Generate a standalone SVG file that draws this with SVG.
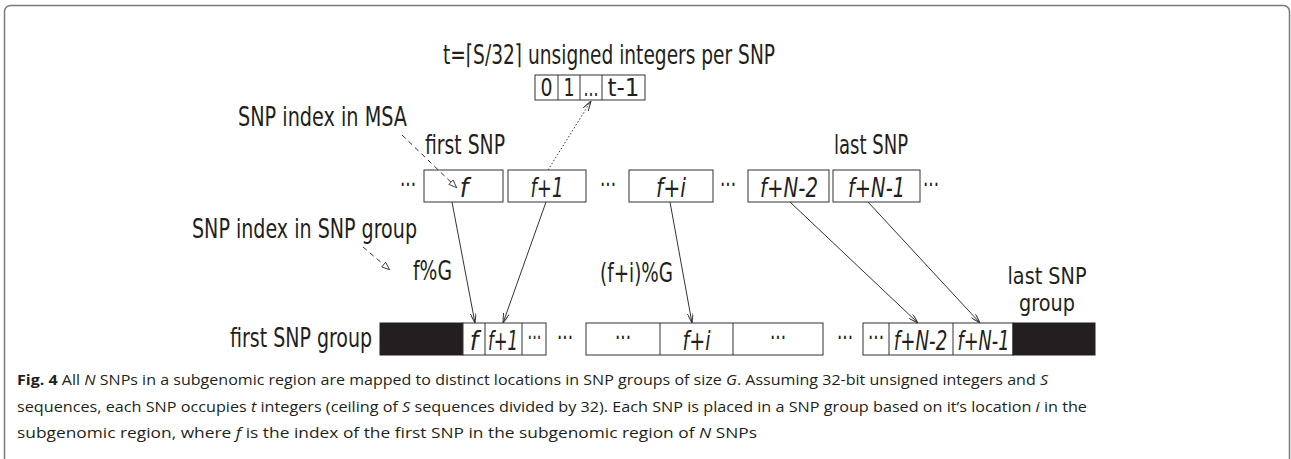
<svg xmlns="http://www.w3.org/2000/svg" width="1291" height="459" viewBox="0 0 1291 459">
<style>
.lbl{font-family:"DejaVu Sans Condensed","DejaVu Sans",sans-serif;font-stretch:condensed;font-size:27px;fill:#231f20}
.sm{font-size:24px}
.it{font-style:italic}
.box{fill:#fff;stroke:#333;stroke-width:1}
.blk{fill:#231f20;stroke:#231f20}
.cap{font-family:"Open Sans","Noto Sans",sans-serif;font-size:14.6px;fill:#231f20}
.ln{stroke:#333;stroke-width:1;fill:none}
.dash{stroke:#333;stroke-width:1;fill:none;stroke-dasharray:5 4}
.dot{stroke:#333;stroke-width:1;fill:none;stroke-dasharray:1.5 2}
</style>
<defs>
<marker id="arr" viewBox="0 0 10 6" refX="10" refY="3" markerWidth="10" markerHeight="6" markerUnits="userSpaceOnUse" orient="auto">
<path d="M0,0 L10,3 L0,6" fill="none" stroke="#333" stroke-width="1"/>
</marker>
<marker id="open" viewBox="0 0 10 8" refX="10" refY="4" markerWidth="9" markerHeight="7" markerUnits="userSpaceOnUse" orient="auto">
<path d="M0.5,0.5 L9.5,4 L0.5,7.5 z" fill="#fff" stroke="#333" stroke-width="1"/>
</marker>
</defs>
<rect x="4.5" y="5.5" width="1285" height="470" rx="6" fill="none" stroke="#7a7a7a" stroke-width="1.5"/>

<g id="title">
<text class="lbl" x="443" y="64" textLength="332" lengthAdjust="spacingAndGlyphs">t=⌈S/32⌉ unsigned integers per SNP</text>
</g>
<g id="tbox">
<rect class="box" x="535" y="75" width="110" height="25"/>
<line class="ln" x1="558" y1="75" x2="558" y2="100"/>
<line class="ln" x1="580" y1="75" x2="580" y2="100"/>
<line class="ln" x1="602" y1="75" x2="602" y2="100"/>
<text class="lbl sm" x="546.5" y="96" text-anchor="middle" textLength="12" lengthAdjust="spacingAndGlyphs">0</text>
<text class="lbl sm" x="569" y="96" text-anchor="middle" textLength="11" lengthAdjust="spacingAndGlyphs">1</text>
<text class="lbl sm" x="591" y="96" text-anchor="middle" textLength="15" lengthAdjust="spacingAndGlyphs">...</text>
<text class="lbl sm" x="623.5" y="96" text-anchor="middle" textLength="32" lengthAdjust="spacingAndGlyphs">t-1</text>
</g>

<g id="labels">
<text class="lbl" x="238" y="126" textLength="169" lengthAdjust="spacingAndGlyphs">SNP index in MSA</text>
<text class="lbl" x="425" y="154" textLength="80" lengthAdjust="spacingAndGlyphs">first SNP</text>
<text class="lbl" x="834" y="154" textLength="74" lengthAdjust="spacingAndGlyphs">last SNP</text>
<text class="lbl" x="192" y="238" textLength="225" lengthAdjust="spacingAndGlyphs">SNP index in SNP group</text>
<text class="lbl" x="413" y="280" textLength="39" lengthAdjust="spacingAndGlyphs">f%G</text>
<text class="lbl" x="600" y="282" textLength="73" lengthAdjust="spacingAndGlyphs">(f+i)%G</text>
<text class="lbl" x="372" y="347" text-anchor="end" textLength="142" lengthAdjust="spacingAndGlyphs">first SNP group</text>
<text class="lbl" style="font-size:23px" transform="translate(1047 284) scale(0.93 1)" text-anchor="middle"><tspan x="0" y="0">last SNP</tspan><tspan x="0" y="27.5">group</tspan></text>
</g>

<g id="snp-row">
<text class="lbl" x="408" y="194" text-anchor="middle" textLength="16" lengthAdjust="spacingAndGlyphs">···</text>
<rect class="box" x="424" y="170" width="79" height="32"/>
<text class="lbl it" x="464" y="197" text-anchor="middle">f</text>
<rect class="box" x="508" y="170" width="78" height="32"/>
<text class="lbl it" x="547" y="197" text-anchor="middle" textLength="33" lengthAdjust="spacingAndGlyphs">f+1</text>
<text class="lbl" x="608" y="194" text-anchor="middle" textLength="16" lengthAdjust="spacingAndGlyphs">···</text>
<rect class="box" x="629" y="170" width="84" height="32"/>
<text class="lbl it" x="671" y="197" text-anchor="middle" textLength="30" lengthAdjust="spacingAndGlyphs">f+i</text>
<text class="lbl" x="728" y="194" text-anchor="middle" textLength="16" lengthAdjust="spacingAndGlyphs">···</text>
<rect class="box" x="748" y="170" width="81" height="32"/>
<text class="lbl it" x="789" y="197" text-anchor="middle" textLength="58" lengthAdjust="spacingAndGlyphs">f+N-2</text>
<rect class="box" x="833" y="170" width="87" height="32"/>
<text class="lbl it" x="876.5" y="197" text-anchor="middle" textLength="57" lengthAdjust="spacingAndGlyphs">f+N-1</text>
<text class="lbl" x="931" y="194" text-anchor="middle" textLength="16" lengthAdjust="spacingAndGlyphs">···</text>
</g>

<g id="group-first">
<rect class="blk" x="380" y="323" width="83" height="32"/>
<rect class="box" x="463" y="323" width="83" height="32"/>
<line class="ln" x1="485" y1="323" x2="485" y2="355"/>
<line class="ln" x1="522" y1="323" x2="522" y2="355"/>
<text class="lbl it" x="474" y="350" text-anchor="middle">f</text>
<text class="lbl it" transform="translate(503 350) scale(0.68 1)" text-anchor="middle">f+1</text>
<text class="lbl" transform="translate(534.5 347) scale(0.6 1)" text-anchor="middle">···</text>
<text class="lbl" x="565" y="347" text-anchor="middle" textLength="16" lengthAdjust="spacingAndGlyphs">···</text>
</g>
<g id="group-mid">
<rect class="box" x="586" y="323" width="237" height="32"/>
<line class="ln" x1="660" y1="323" x2="660" y2="355"/>
<line class="ln" x1="733" y1="323" x2="733" y2="355"/>
<text class="lbl" x="623" y="347" text-anchor="middle" textLength="16" lengthAdjust="spacingAndGlyphs">···</text>
<text class="lbl it" x="696.5" y="350" text-anchor="middle" textLength="28" lengthAdjust="spacingAndGlyphs">f+i</text>
<text class="lbl" x="778" y="347" text-anchor="middle" textLength="16" lengthAdjust="spacingAndGlyphs">···</text>
<text class="lbl" x="845" y="347" text-anchor="middle" textLength="16" lengthAdjust="spacingAndGlyphs">···</text>
</g>
<g id="group-last">
<rect class="box" x="863" y="323" width="150" height="32"/>
<line class="ln" x1="889" y1="323" x2="889" y2="355"/>
<line class="ln" x1="953" y1="323" x2="953" y2="355"/>
<text class="lbl" x="876" y="347" text-anchor="middle" textLength="16" lengthAdjust="spacingAndGlyphs">···</text>
<text class="lbl it" transform="translate(920.5 350) scale(0.75 1)" text-anchor="middle">f+N-2</text>
<text class="lbl it" transform="translate(983.5 350) scale(0.73 1)" text-anchor="middle">f+N-1</text>
<rect class="blk" x="1013" y="323" width="82" height="32"/>
</g>

<g id="connectors">
<line class="ln" x1="452" y1="202" x2="475" y2="323" marker-end="url(#arr)"/>
<line class="ln" x1="546" y1="202" x2="503" y2="323" marker-end="url(#arr)"/>
<line class="ln" x1="670" y1="202" x2="692" y2="323" marker-end="url(#arr)"/>
<line class="ln" x1="790" y1="202" x2="918" y2="323" marker-end="url(#arr)"/>
<line class="ln" x1="868" y1="202" x2="980" y2="323" marker-end="url(#arr)"/>
<line class="dot" x1="548" y1="170" x2="591" y2="101" marker-end="url(#arr)"/>
<line class="dash" x1="402" y1="135" x2="457" y2="188" marker-end="url(#open)"/>
<line class="dash" x1="363" y1="247" x2="390" y2="270" marker-end="url(#open)"/>
</g>

<g id="caption">
<text class="cap" x="17" y="385" textLength="1031" lengthAdjust="spacingAndGlyphs"><tspan font-weight="bold">Fig. 4</tspan> All <tspan font-style="italic">N</tspan> SNPs in a subgenomic region are mapped to distinct locations in SNP groups of size <tspan font-style="italic">G</tspan>. Assuming 32-bit unsigned integers and <tspan font-style="italic">S</tspan></text>
<text class="cap" x="17" y="411.5" textLength="1070" lengthAdjust="spacingAndGlyphs">sequences, each SNP occupies <tspan font-style="italic">t</tspan> integers (ceiling of <tspan font-style="italic">S</tspan> sequences divided by 32). Each SNP is placed in a SNP group based on it’s location <tspan font-style="italic">i</tspan> in the</text>
<text class="cap" x="17" y="438" textLength="740" lengthAdjust="spacingAndGlyphs">subgenomic region, where <tspan font-style="italic">f</tspan> is the index of the first SNP in the subgenomic region of <tspan font-style="italic">N</tspan> SNPs</text>
</g>
</svg>
